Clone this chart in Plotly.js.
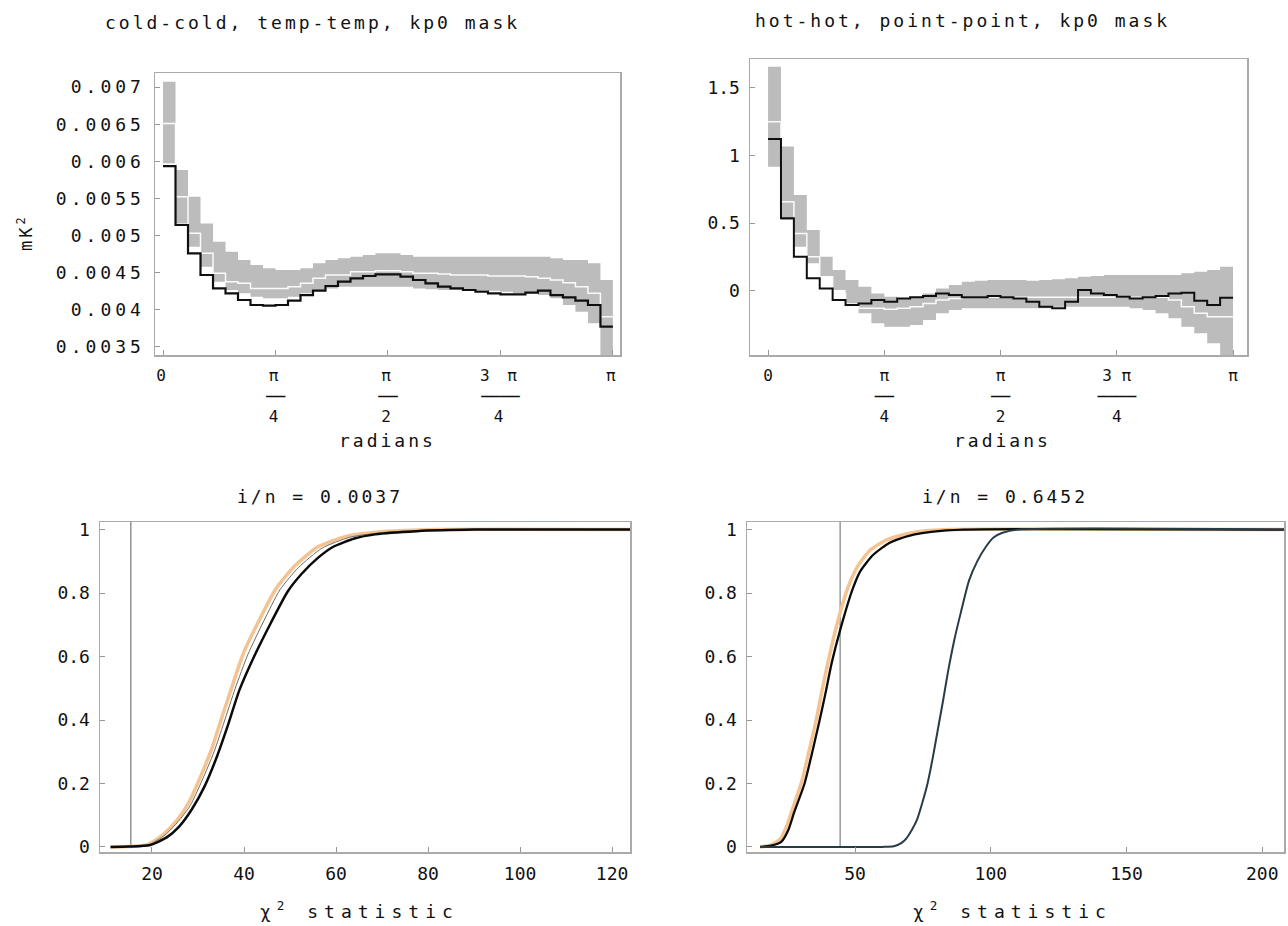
<!DOCTYPE html>
<html>
<head>
<meta charset="utf-8">
<script src="https://cdn.plot.ly/plotly-3.0.1.min.js"></script>
<style>
  html, body { margin: 0; padding: 0; background: #fff; overflow: hidden; }
  #chart { width: 1288px; height: 926px; }
  .xtick text, .ytick text { letter-spacing: 4px; }
  .annotation-text { letter-spacing: 3px; }
</style>
</head>
<body>
<div id="chart"></div>
<script>
// ---------- Top-left: cold-cold, temp-temp, kp0 mask (36 bins over 0..pi) ----------
const tlData = [0.005936,0.005141,0.004759,0.004467,0.004287,0.00422,0.00413,0.004063,0.004054,0.004063,
  0.004121,0.004197,0.004256,0.004319,0.004377,0.004422,0.004454,0.004476,0.004476,0.004445,
  0.0044,0.004355,0.00431,0.004287,0.004265,0.004242,0.00422,0.004206,0.004206,0.004229,
  0.004256,0.004197,0.004166,0.004121,0.004063,0.003771];
const tlUpper = [0.007073,0.005882,0.005523,0.005163,0.004916,0.004782,0.004669,0.004602,0.004557,0.004534,
  0.004534,0.004557,0.004624,0.004669,0.004692,0.004714,0.004737,0.004759,0.004759,0.004737,
  0.004714,0.004714,0.004714,0.004714,0.004714,0.004714,0.004714,0.004714,0.004714,0.004714,
  0.004714,0.004692,0.004669,0.004669,0.004624,0.0044];
const tlLower = [0.005972,0.005163,0.004849,0.004579,0.004377,0.004265,0.00422,0.004175,0.004153,0.004153,
  0.004175,0.00422,0.004265,0.004287,0.00431,0.00431,0.00431,0.00431,0.00431,0.00431,
  0.004287,0.004274,0.004265,0.004265,0.004265,0.004265,0.004256,0.004242,0.00422,0.00422,
  0.004197,0.004153,0.004063,0.003973,0.003816,0.003366];
const tlMean = [0.006511,0.005523,0.005029,0.004759,0.00449,0.004377,0.004355,0.004287,0.004287,0.004287,
  0.00431,0.004355,0.004422,0.004467,0.004467,0.004512,0.004512,0.004525,0.004525,0.004512,
  0.00449,0.00449,0.004481,0.004467,0.004467,0.004467,0.004454,0.004454,0.004454,0.004445,
  0.004422,0.0044,0.004364,0.00431,0.00422,0.003905];

// ---------- Top-right: hot-hot, point-point, kp0 mask ----------
const trData = [1.121,0.535,0.252,0.092,0.018,-0.068,-0.105,-0.093,-0.068,-0.080,
  -0.056,-0.048,-0.038,-0.019,-0.031,-0.048,-0.048,-0.038,-0.048,-0.056,
  -0.080,-0.117,-0.129,-0.080,0.006,-0.019,-0.031,-0.043,-0.056,-0.048,
  -0.038,-0.019,-0.014,-0.073,-0.105,-0.051];
const trUpper = [1.655,1.065,0.708,0.449,0.252,0.154,0.080,0.030,-0.019,-0.043,
  -0.056,-0.043,-0.019,0.018,0.043,0.067,0.075,0.080,0.080,0.080,
  0.075,0.080,0.085,0.092,0.104,0.109,0.117,0.117,0.117,0.117,
  0.117,0.117,0.129,0.141,0.154,0.178];
const trLower = [0.917,0.523,0.326,0.203,0.104,0.006,-0.092,-0.166,-0.240,-0.265,
  -0.265,-0.253,-0.216,-0.166,-0.142,-0.129,-0.129,-0.129,-0.129,-0.129,
  -0.129,-0.129,-0.117,-0.117,-0.117,-0.117,-0.117,-0.117,-0.129,-0.142,
  -0.166,-0.203,-0.265,-0.314,-0.388,-0.474];
const trMean = [1.249,0.658,0.424,0.252,0.104,-0.019,-0.105,-0.129,-0.129,-0.137,
  -0.129,-0.117,-0.093,-0.068,-0.056,-0.048,-0.048,-0.048,-0.048,-0.048,
  -0.048,-0.048,-0.048,-0.048,-0.048,-0.048,-0.048,-0.048,-0.048,-0.048,
  -0.048,-0.068,-0.117,-0.166,-0.191,-0.191];

// ---------- Bottom-left CDFs ----------
const blBlackX = [11,15,19.6,23.2,25.9,28.6,31.4,34.1,36.4,39,42.2,45.8,49.5,52.5,56,59.4,64,68.5,77.5,90,123.9];
const blBlackY = [0,0.001,0.006,0.03,0.064,0.117,0.19,0.284,0.379,0.494,0.6,0.705,0.805,0.86,0.91,0.946,0.972,0.985,0.995,1,1];
const blOrangeX = [11,15,19,22.5,25.5,28,30.5,33,35,37.5,40,43.5,47,51,56,62,70,82,123.9];
const blOrangeY = [0,0.001,0.007,0.04,0.085,0.14,0.22,0.31,0.4,0.51,0.615,0.72,0.815,0.885,0.945,0.978,0.993,1,1];
const blGrayX = [11,15,19.3,22.8,25.7,28.3,30.9,33.5,35.6,38.1,40.8,44.3,47.8,51.8,57,63,71,84,123.9];
const blGrayY = [0,0.001,0.007,0.037,0.08,0.13,0.21,0.3,0.39,0.5,0.605,0.712,0.81,0.88,0.942,0.976,0.992,1,1];
const blObserved = 15.4;

// ---------- Bottom-right CDFs ----------
const brBlackX = [15,19,22.9,25.5,27.5,31.4,34,36.7,39,41.4,44.4,49,52,56.6,62,66,72,78,90,208];
const brBlackY = [0,0.004,0.017,0.055,0.107,0.2,0.29,0.39,0.48,0.58,0.68,0.81,0.87,0.92,0.955,0.97,0.985,0.993,1,1];
const brOrangeX = [15,19,22.5,25,27,30.5,33,35.7,38,40.5,43.3,47.5,51,55.5,61,66,72,85,208];
const brOrangeY = [0,0.006,0.025,0.07,0.12,0.21,0.3,0.4,0.5,0.6,0.7,0.82,0.885,0.935,0.965,0.98,0.992,1,1];
const brSlateX = [15,60,64.3,67,69,71,72.8,74.8,76.7,78.6,80.5,82.4,84.2,86.5,89,92,95,98.2,101,104.3,110,208];
const brSlateY = [0,0,0.002,0.012,0.028,0.055,0.085,0.14,0.2,0.28,0.37,0.46,0.55,0.65,0.74,0.84,0.9,0.946,0.975,0.99,1,1];
const brObserved = 44.5;

// ---------- Tick labels ----------
const bar = n => '<span style="letter-spacing:0px">' + '─'.repeat(n) + '</span>';
const angleTickVals = [0, Math.PI/4, Math.PI/2, 3*Math.PI/4, Math.PI];
const angleTickText = ["0", "π<br>" + bar(2) + "<br>4", "π<br>" + bar(2) + "<br>2", "3 π<br>" + bar(4) + "<br>4", "π"];
const tlYTickVals = [0.0035,0.004,0.0045,0.005,0.0055,0.006,0.0065,0.007];
const tlYTickText = ["0.0035","0.004","0.0045","0.005","0.0055","0.006","0.0065","0.007"];
const trYTickVals = [0,0.5,1,1.5];
const trYTickText = ["0","0.5","1","1.5"];
const cdfYTickVals = [0,0.2,0.4,0.6,0.8,1];
const cdfYTickText = ["0","0.2","0.4","0.6","0.8","1"];
const blXTickVals = [20,40,60,80,100,120];
const brXTickVals = [50,100,150,200];

// ---------- Build ----------
const NB = tlData.length;
const edges = Array.from({length: NB + 1}, (_, k) => k * Math.PI / NB);
const ext = a => a.concat([a[a.length - 1]]);

const bandColor = 'rgb(188,188,188)';
function binnedTraces(lower, upper, mean, data, xa, ya, lw) {
  return [
    {x: edges, y: ext(lower), xaxis: xa, yaxis: ya, type: 'scatter', mode: 'lines',
     line: {shape: 'hv', width: 0, color: bandColor}, hoverinfo: 'skip'},
    {x: edges, y: ext(upper), xaxis: xa, yaxis: ya, type: 'scatter', mode: 'lines',
     line: {shape: 'hv', width: 0, color: bandColor}, fill: 'tonexty', fillcolor: bandColor},
    {x: edges, y: ext(mean), xaxis: xa, yaxis: ya, type: 'scatter', mode: 'lines',
     line: {shape: 'hv', width: 1.5, color: 'rgb(250,250,250)'}},
    {x: edges, y: ext(data), xaxis: xa, yaxis: ya, type: 'scatter', mode: 'lines',
     line: {shape: 'hv', width: lw, color: 'rgb(15,15,15)'}}
  ];
}

const traces = [].concat(
  binnedTraces(tlLower, tlUpper, tlMean, tlData, 'x', 'y', 2.2),
  binnedTraces(trLower, trUpper, trMean, trData, 'x2', 'y2', 2),
  [
    {x: [blObserved, blObserved], y: [0, 1.024], xaxis: 'x3', yaxis: 'y3', mode: 'lines',
     line: {color: 'rgb(120,120,120)', width: 1.2}},
    {x: blOrangeX, y: blOrangeY, xaxis: 'x3', yaxis: 'y3', mode: 'lines',
     line: {color: 'rgb(245,195,145)', width: 3.5, shape: 'spline', smoothing: 0.6}},
    {x: blGrayX, y: blGrayY, xaxis: 'x3', yaxis: 'y3', mode: 'lines',
     line: {color: 'rgb(110,110,100)', width: 1, shape: 'spline', smoothing: 0.6}},
    {x: blBlackX, y: blBlackY, xaxis: 'x3', yaxis: 'y3', mode: 'lines',
     line: {color: 'rgb(10,10,10)', width: 2.5, shape: 'spline', smoothing: 0.6}},

    {x: [brObserved, brObserved], y: [0, 1.024], xaxis: 'x4', yaxis: 'y4', mode: 'lines',
     line: {color: 'rgb(120,130,130)', width: 1.2}},
    {x: brOrangeX, y: brOrangeY, xaxis: 'x4', yaxis: 'y4', mode: 'lines',
     line: {color: 'rgb(245,195,145)', width: 3.5, shape: 'spline', smoothing: 0.6}},
    {x: brBlackX, y: brBlackY, xaxis: 'x4', yaxis: 'y4', mode: 'lines',
     line: {color: 'rgb(10,10,10)', width: 2.3, shape: 'spline', smoothing: 0.6}},
    {x: brSlateX, y: brSlateY, xaxis: 'x4', yaxis: 'y4', mode: 'lines',
     line: {color: 'rgb(40,60,70)', width: 2, shape: 'spline', smoothing: 0.6}}
  ]
);

const W = 1288, H = 926;
const dx = (a, b) => [a / W, b / W];
const dy = (top, bottom) => [1 - bottom / H, 1 - top / H];
const FONT = 'DejaVu Sans Mono';
const tickFont = {family: FONT, size: 18, color: '#111'};

function axisBase(extra) {
  return Object.assign({
    showline: true, mirror: true, linecolor: 'rgb(170,170,170)', linewidth: 1.5,
    showgrid: false, zeroline: false, ticks: 'inside', ticklen: 5, tickcolor: 'rgb(150,150,150)',
    tickfont: tickFont, tickmode: 'array', fixedrange: true, ticklabelstandoff: 5
  }, extra);
}

const fracFont = {family: FONT, size: 16, color: '#111'};
const layout = {
  width: W, height: H,
  margin: {l: 0, r: 0, t: 0, b: 0},
  paper_bgcolor: '#fff', plot_bgcolor: '#fff',
  showlegend: false,
  xaxis:  axisBase({domain: dx(155, 620), range: [-0.056, 3.191], anchor: 'y',
                    tickvals: angleTickVals, ticktext: angleTickText, tickfont: fracFont}),
  yaxis:  axisBase({domain: dy(73, 355), range: [0.003389, 0.00719], anchor: 'x',
                    tickvals: tlYTickVals, ticktext: tlYTickText}),
  xaxis2: axisBase({domain: dx(750, 1247), range: [-0.122, 3.236], anchor: 'y2',
                    tickvals: angleTickVals, ticktext: angleTickText, tickfont: fracFont}),
  yaxis2: axisBase({domain: dy(59, 355), range: [-0.474, 1.712], anchor: 'x2',
                    tickvals: trYTickVals, ticktext: trYTickText}),
  xaxis3: axisBase({domain: dx(100, 630), range: [8.7, 123.9], anchor: 'y3',
                    tickvals: blXTickVals, ticktext: blXTickVals.map(String)}),
  yaxis3: axisBase({domain: dy(522, 852), range: [-0.016, 1.024], anchor: 'x3',
                    tickvals: cdfYTickVals, ticktext: cdfYTickText}),
  xaxis4: axisBase({domain: dx(747, 1284), range: [10.2, 208], anchor: 'y4',
                    tickvals: brXTickVals, ticktext: brXTickVals.map(String)}),
  yaxis4: axisBase({domain: dy(522, 852), range: [-0.016, 1.024], anchor: 'x4',
                    tickvals: cdfYTickVals, ticktext: cdfYTickText}),
  annotations: [
    {text: 'cold-cold, temp-temp, kp0 mask', x: 312 / W, y: 1 - 22 / H},
    {text: 'hot-hot, point-point, kp0 mask', x: 962 / W, y: 1 - 20 / H},
    {text: 'i/n = 0.0037', x: 320 / W, y: 1 - 496 / H},
    {text: 'i/n = 0.6452', x: 1005 / W, y: 1 - 496 / H},
    {text: 'radians', x: 387 / W, y: 1 - 440 / H},
    {text: 'radians', x: 1002 / W, y: 1 - 440 / H},
    {text: '<span style="letter-spacing:6px">χ<sup>2</sup> statistic</span>', x: 360 / W, y: 1 - 910 / H},
    {text: '<span style="letter-spacing:6px">χ<sup>2</sup> statistic</span>', x: 1012 / W, y: 1 - 910 / H},
    {text: 'mK<sup>2</sup>', x: 25 / W, y: 1 - 232 / H, textangle: -90, font: {family: FONT, size: 17, color: '#111'}}
  ].map(a => Object.assign({xref: 'paper', yref: 'paper', showarrow: false,
                             xanchor: 'center', yanchor: 'middle',
                             font: {family: FONT, size: 18, color: '#111'}}, a))
};

Plotly.newPlot('chart', traces, layout, {staticPlot: true, displayModeBar: false});
</script>
</body>
</html>
